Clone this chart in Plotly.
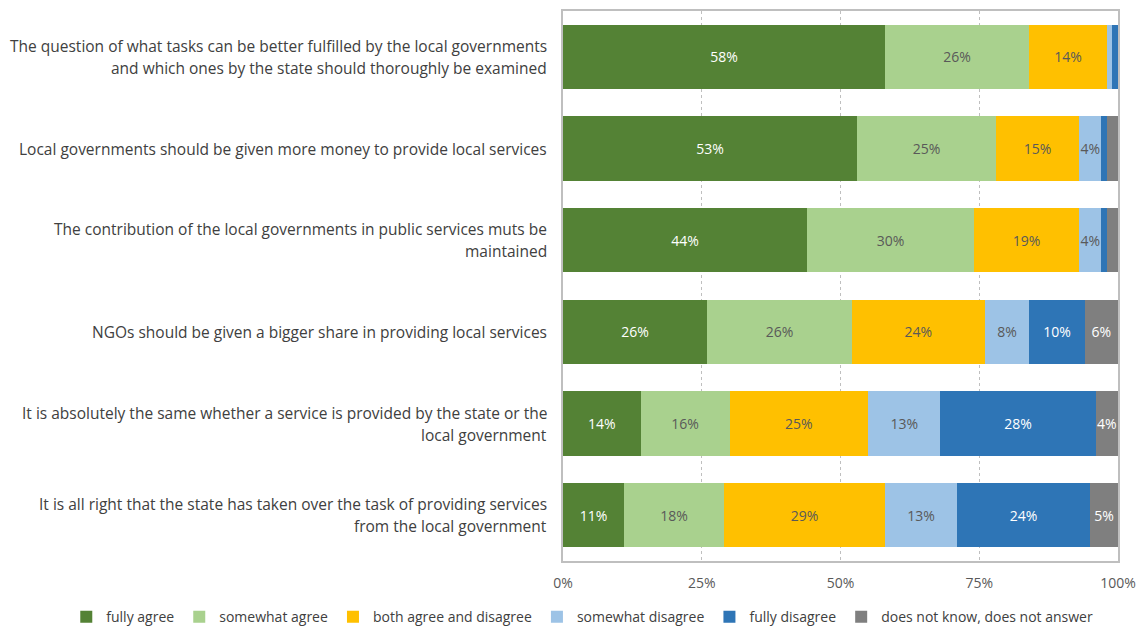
import plotly.graph_objects as go

# Survey statements, top to bottom (each split into its display lines)
statements = [
    ["The question of what tasks can be better fulfilled by the local governments",
     "and which ones by the state should thoroughly be examined"],
    ["Local governments should be given more money to provide local services"],
    ["The contribution of the local governments in public services muts be",
     "maintained"],
    ["NGOs should be given a bigger share in providing local services"],
    ["It is absolutely the same whether a service is provided by the state or the",
     "local government"],
    ["It is all right that the state has taken over the task of providing services",
     "from the local government"],
]
categories = [" ".join(s) for s in statements]

# Answer shares (%) per statement
fully_agree = [58, 53, 44, 26, 14, 11]
somewhat_agree = [26, 25, 30, 26, 16, 18]
both_agree_disagree = [14, 15, 19, 24, 25, 29]
somewhat_disagree = [1, 4, 4, 8, 13, 13]
fully_disagree = [1, 1, 1, 10, 28, 24]
no_answer = [0, 2, 2, 6, 4, 5]

series_names = ["fully agree", "somewhat agree", "both agree and disagree",
                "somewhat disagree", "fully disagree", "does not know, does not answer"]
series_values = [fully_agree, somewhat_agree, both_agree_disagree,
                 somewhat_disagree, fully_disagree, no_answer]
series_colors = ["#548235", "#A9D18E", "#FFC000", "#9DC3E6", "#2E75B6", "#7F7F7F"]
label_colors = ["#FFFFFF", "#595959", "#595959", "#595959", "#FFFFFF", "#FFFFFF"]

x_ticks = [0, 25, 50, 75, 100]
x_tick_labels = ["0%", "25%", "50%", "75%", "100%"]

FONT = "Open Sans, sans-serif"

fig = go.Figure()
for name, vals, col, lcol in zip(series_names, series_values, series_colors, label_colors):
    fig.add_trace(go.Bar(
        name=name,
        y=categories,
        x=vals,
        orientation="h",
        marker=dict(color=col, line=dict(width=0)),
        text=[f"{v}%" if v >= 4 else "" for v in vals],
        textposition="inside",
        insidetextanchor="middle",
        textangle=0,
        constraintext="none",
        textfont=dict(color=lcol, size=14, family=FONT),
        hoverinfo="skip",
    ))

# Statement labels to the left of the plot area, centered line by line
line_gap = 22
for i, lines in enumerate(statements):
    n = len(lines)
    for j, line in enumerate(lines):
        fig.add_annotation(
            x=-0.025, xref="paper", xanchor="right",
            y=i, yref="y", yanchor="middle",
            yshift=((n - 1) / 2 - j) * line_gap,
            text=line, showarrow=False, align="center",
            font=dict(size=15.5, family=FONT, color="#404040"),
        )

fig.update_layout(
    barmode="stack",
    bargap=0.3,
    width=1145, height=628,
    margin=dict(l=563, r=27, t=11, b=67, autoexpand=False),
    plot_bgcolor="white",
    paper_bgcolor="white",
    font=dict(family=FONT, size=14, color="#595959"),
    showlegend=True,
    legend=dict(
        orientation="h",
        x=-0.895, xanchor="left",
        y=-0.102, yanchor="middle",
        font=dict(size=14, family=FONT, color="#404040"),
        traceorder="normal",
        itemwidth=30,
        tracegroupgap=0,
    ),
    xaxis=dict(
        range=[0, 100],
        tickvals=x_ticks,
        ticktext=x_tick_labels,
        showgrid=True,
        gridcolor="#BFBFBF",
        griddash="3px,3px",
        gridwidth=1,
        zeroline=False,
        showline=True, linecolor="#BFBFBF", linewidth=1.5, mirror=True,
        ticks="outside", ticklen=8, tickcolor="rgba(0,0,0,0)",
        tickfont=dict(size=14, family=FONT, color="#595959"),
        fixedrange=True,
    ),
    yaxis=dict(
        type="category",
        autorange="reversed",
        showticklabels=False,
        showgrid=False,
        zeroline=False,
        showline=True, linecolor="#BFBFBF", linewidth=1.5, mirror=True,
        ticks="",
        fixedrange=True,
    ),
)

fig.write_html("out.html")
